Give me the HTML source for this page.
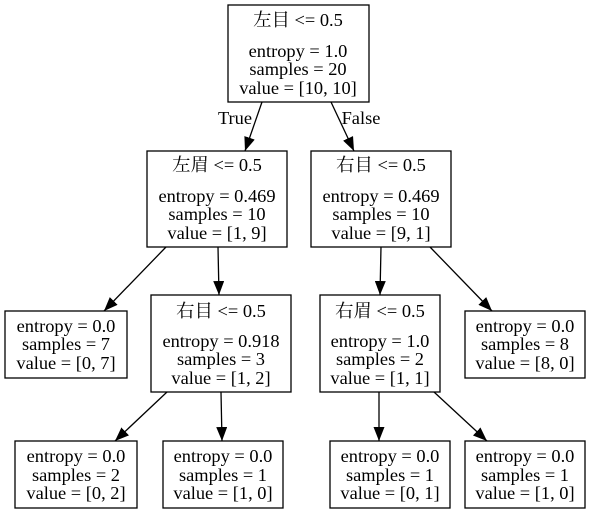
<!DOCTYPE html>
<html><head><meta charset="utf-8"><style>
html,body{margin:0;padding:0;background:#fff;}
svg{display:block}
text{font-family:"Liberation Serif","Noto Serif CJK SC",serif;font-size:18.4px;text-anchor:middle;fill:#000}
rect{fill:#fff;stroke:#000;stroke-width:1.3}
line{stroke:#000;stroke-width:1.3}
</style></head><body>
<svg width="593" height="513" viewBox="0 0 593 513" xmlns="http://www.w3.org/2000/svg">
<defs><marker id="a" markerWidth="14" markerHeight="11" refX="14" refY="5.5" orient="auto" markerUnits="userSpaceOnUse"><path d="M0,0 L14,5.5 L0,11 z" fill="#000"/></marker></defs>
<line x1="262" y1="102" x2="245" y2="151" marker-end="url(#a)"/>
<line x1="331" y1="102" x2="354" y2="151" marker-end="url(#a)"/>
<line x1="166" y1="247" x2="104" y2="311" marker-end="url(#a)"/>
<line x1="218" y1="247" x2="219" y2="295" marker-end="url(#a)"/>
<line x1="381" y1="247" x2="380" y2="295" marker-end="url(#a)"/>
<line x1="430" y1="247" x2="492" y2="311" marker-end="url(#a)"/>
<line x1="167" y1="392" x2="115" y2="441" marker-end="url(#a)"/>
<line x1="221" y1="392" x2="222" y2="441" marker-end="url(#a)"/>
<line x1="379" y1="392" x2="379" y2="441" marker-end="url(#a)"/>
<line x1="434" y1="392" x2="487" y2="441" marker-end="url(#a)"/>
<text x="235" y="124">True</text>
<text x="361" y="124">False</text>
<rect x="228" y="5" width="141" height="97"/>
<text x="298" y="26">左目 &lt;= 0.5</text>
<text x="298" y="57">entropy = 1.0</text>
<text x="298" y="75">samples = 20</text>
<text x="298" y="94">value = [10, 10]</text>
<rect x="147" y="151" width="140" height="96"/>
<text x="217" y="171">左眉 &lt;= 0.5</text>
<text x="217" y="202">entropy = 0.469</text>
<text x="217" y="220">samples = 10</text>
<text x="217" y="239">value = [1, 9]</text>
<rect x="311" y="151" width="140" height="96"/>
<text x="381" y="171">右目 &lt;= 0.5</text>
<text x="381" y="202">entropy = 0.469</text>
<text x="381" y="220">samples = 10</text>
<text x="381" y="239">value = [9, 1]</text>
<rect x="5" y="311" width="122" height="67"/>
<text x="66" y="332">entropy = 0.0</text>
<text x="66" y="350">samples = 7</text>
<text x="66" y="369">value = [0, 7]</text>
<rect x="151" y="295" width="140" height="97"/>
<text x="221" y="317">右目 &lt;= 0.5</text>
<text x="221" y="347">entropy = 0.918</text>
<text x="221" y="365">samples = 3</text>
<text x="221" y="384">value = [1, 2]</text>
<rect x="320" y="295" width="120" height="97"/>
<text x="380" y="317">右眉 &lt;= 0.5</text>
<text x="380" y="347">entropy = 1.0</text>
<text x="380" y="365">samples = 2</text>
<text x="380" y="384">value = [1, 1]</text>
<rect x="465" y="311" width="120" height="67"/>
<text x="525" y="332">entropy = 0.0</text>
<text x="525" y="350">samples = 8</text>
<text x="525" y="369">value = [8, 0]</text>
<rect x="15" y="441" width="122" height="67"/>
<text x="76" y="462">entropy = 0.0</text>
<text x="76" y="481">samples = 2</text>
<text x="76" y="499">value = [0, 2]</text>
<rect x="163" y="441" width="120" height="67"/>
<text x="223" y="462">entropy = 0.0</text>
<text x="223" y="481">samples = 1</text>
<text x="223" y="499">value = [1, 0]</text>
<rect x="330" y="441" width="120" height="67"/>
<text x="390" y="462">entropy = 0.0</text>
<text x="390" y="481">samples = 1</text>
<text x="390" y="499">value = [0, 1]</text>
<rect x="465" y="441" width="120" height="67"/>
<text x="525" y="462">entropy = 0.0</text>
<text x="525" y="481">samples = 1</text>
<text x="525" y="499">value = [1, 0]</text>
</svg>
</body></html>
